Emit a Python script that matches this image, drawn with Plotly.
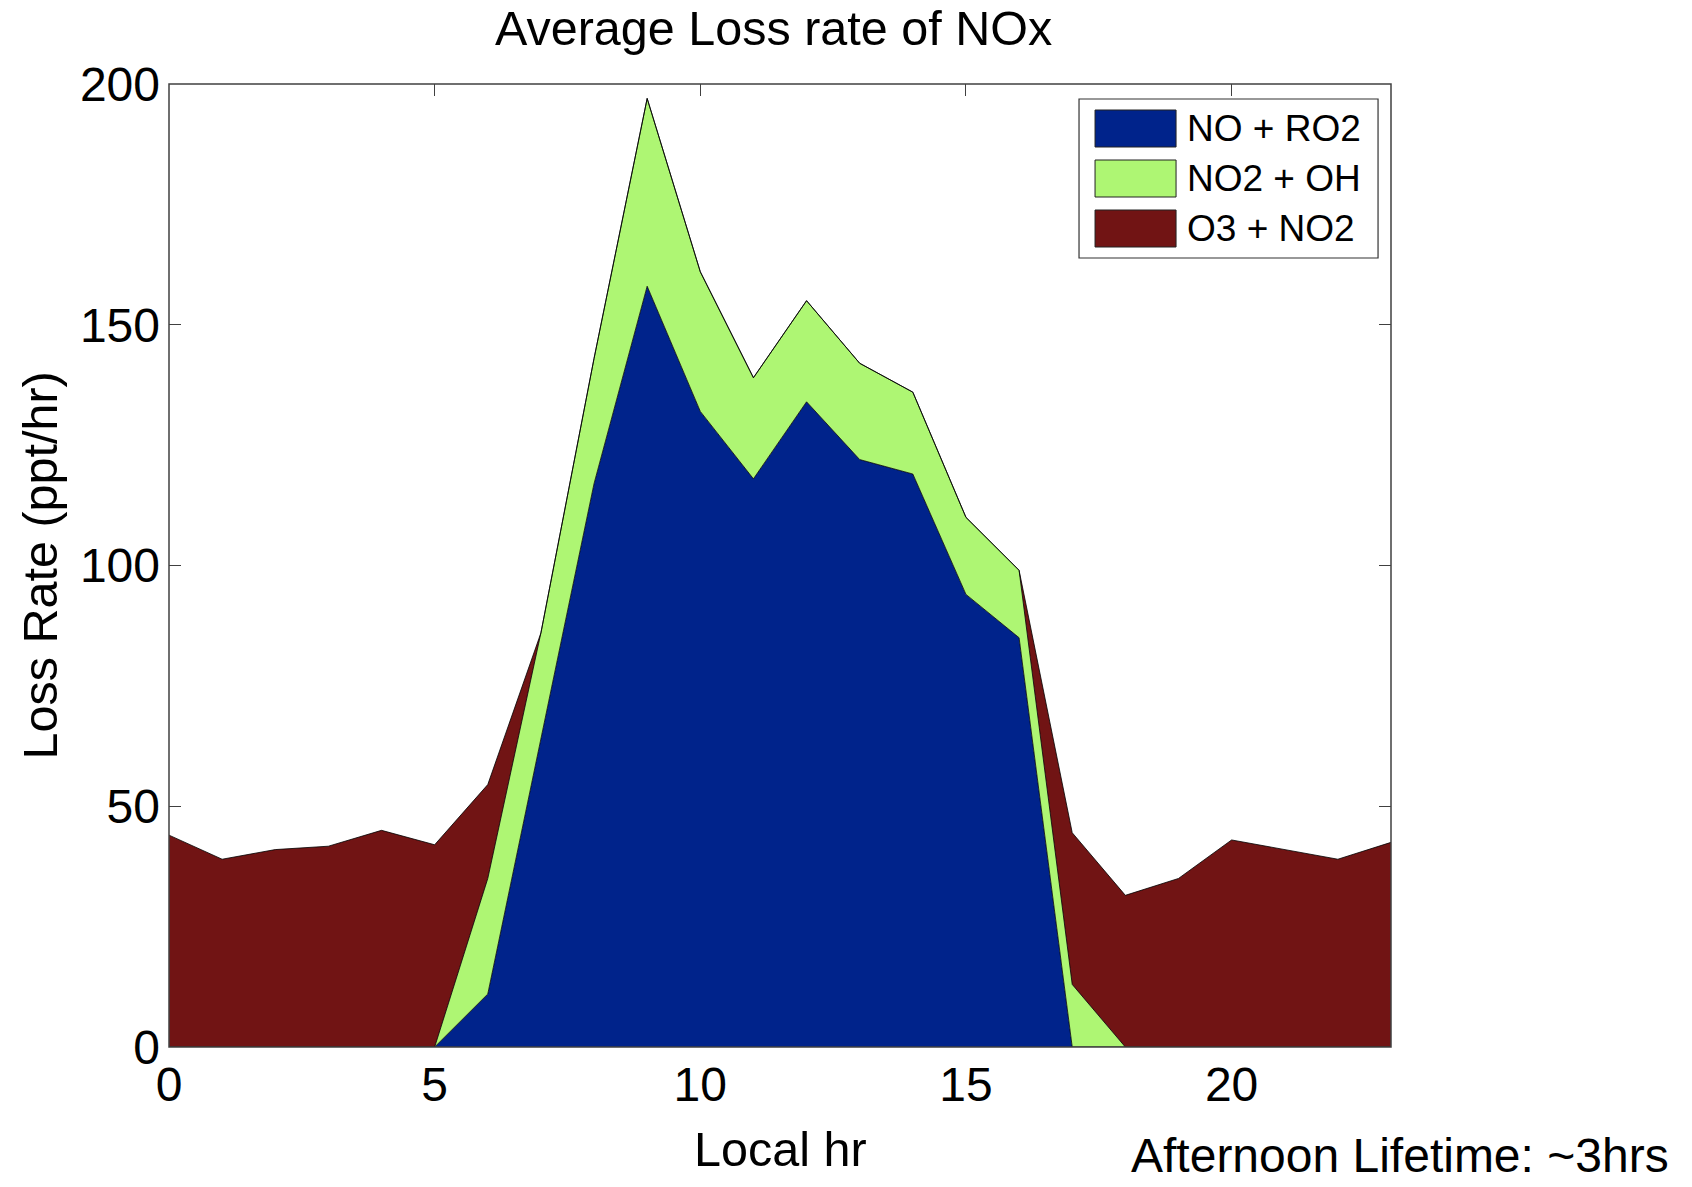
import plotly.graph_objects as go

# Hourly average NOx loss rates (ppt/hr) by reaction channel
hours = list(range(24))
no_ro2 = [0, 0, 0, 0, 0, 0, 11, 64, 117, 158, 132, 118,
          134, 122, 119, 94, 85, 0, 0, 0, 0, 0, 0, 0]
no2_oh = [0, 0, 0, 0, 0, 0, 24, 22, 26, 39, 29, 21,
          21, 20, 17, 16, 14, 13, 0, 0, 0, 0, 0, 0]
o3_no2 = [44, 39, 41, 41.7, 45, 42, 19.5, 0, 0, 0, 0, 0,
          0, 0, 0, 0, 0, 31.5, 31.5, 35, 43, 41, 39, 42.5]

series_names = ["NO + RO2", "NO2 + OH", "O3 + NO2"]
series_colors = ["#00238b", "#aef673", "#711414"]
x_ticks = [0, 5, 10, 15, 20]
y_ticks = [0, 50, 100, 150, 200]

FONT = "Liberation Sans, Arial, Helvetica, sans-serif"
AXIS_COLOR = "#404040"

fig = go.Figure()
for name, vals, color in zip(series_names, [no_ro2, no2_oh, o3_no2], series_colors):
    fig.add_trace(go.Scatter(
        x=hours, y=vals, name=name, mode="lines",
        stackgroup="one", fillcolor=color,
        line=dict(color="black", width=0.8),
        showlegend=False,
    ))

axis_common = dict(
    showgrid=False, zeroline=False, showline=False,
    ticks="inside", ticklen=12, tickwidth=1.2, tickcolor=AXIS_COLOR,
    mirror="ticks", layer="below traces",
    tickfont=dict(family=FONT, size=48, color="black"),
)
fig.update_xaxes(range=[0, 23], tickvals=x_ticks, ticklabelstandoff=5, **axis_common)
fig.update_yaxes(range=[0, 200], tickvals=y_ticks, ticklabelstandoff=8, **axis_common)

shapes = [
    # axes box drawn over the filled areas
    dict(type="rect", xref="paper", yref="paper", x0=0, x1=1, y0=0, y1=1,
         line=dict(color=AXIS_COLOR, width=1.5), layer="above"),
    # legend frame
    dict(type="rect", xref="paper", yref="paper", x0=0.7447, x1=0.9894,
         y0=0.8193, y1=0.9844, fillcolor="white",
         line=dict(color="#333333", width=1.2), layer="above"),
]

annotations = [
    dict(text="Average Loss rate of NOx", x=0.495, y=1.058, xref="paper", yref="paper",
         xanchor="center", yanchor="middle", showarrow=False,
         font=dict(family=FONT, size=48.5, color="black")),
    dict(text="Local hr", x=0.5, y=-0.106, xref="paper", yref="paper",
         xanchor="center", yanchor="middle", showarrow=False,
         font=dict(family=FONT, size=48.5, color="black")),
    dict(text="Loss Rate (ppt/hr)", x=-0.1056, y=0.5, xref="paper", yref="paper",
         xanchor="center", yanchor="middle", showarrow=False, textangle=-90,
         font=dict(family=FONT, size=48.5, color="black")),
    dict(text="Afternoon Lifetime: ~3hrs", x=1.229, y=-0.1125, xref="paper", yref="paper",
         xanchor="right", yanchor="middle", showarrow=False,
         font=dict(family=FONT, size=48, color="black")),
]

# legend rows: swatch + label
row_tops = [110, 160, 210]
for name, color, top in zip(series_names, series_colors, row_tops):
    y1 = (1047 - top) / 963
    y0 = (1047 - (top + 37)) / 963
    shapes.append(dict(type="rect", xref="paper", yref="paper",
                       x0=0.7578, x1=0.8241, y0=y0, y1=y1,
                       fillcolor=color, line=dict(color="#222222", width=1),
                       layer="above"))
    annotations.append(dict(text=name, x=0.8314, y=(y0 + y1) / 2,
                            xref="paper", yref="paper", xanchor="left",
                            yanchor="middle", showarrow=False,
                            font=dict(family=FONT, size=37, color="black")))

fig.update_layout(
    width=1692, height=1187,
    margin=dict(l=169, r=301, t=84, b=140),
    paper_bgcolor="white", plot_bgcolor="white",
    shapes=shapes, annotations=annotations,
    showlegend=False,
)

fig.write_html("out.html")
